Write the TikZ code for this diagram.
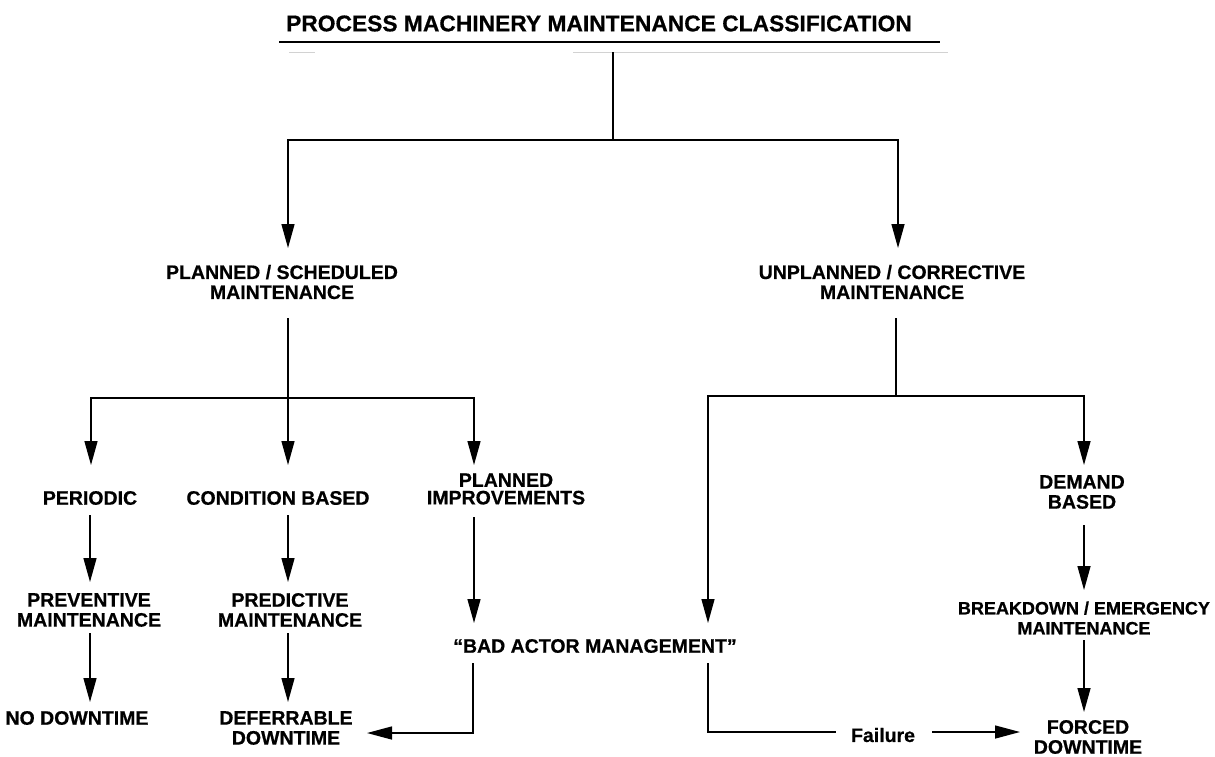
\documentclass[tikz,border=0pt]{standalone}
\usepackage{fontspec}
\setmainfont{Liberation Sans}[BoldFeatures={FakeBold=0.6}]
\usetikzlibrary{arrows.meta}
\tikzset{
  lbl/.style={font=\fontsize{19.5}{20}\selectfont\bfseries, align=center, inner sep=0pt},
  ttl/.style={font=\fontsize{22.8}{26}\selectfont\bfseries, inner sep=0pt},
  con/.style={line width=1.4pt},
  arr/.style={con, -{Triangle[length=24pt,width=13pt]}},
  harr/.style={con, -{Triangle[length=25pt,width=13pt]}}
}
\begin{document}
\begin{tikzpicture}[x=1pt,y=-1pt]
\useasboundingbox (0,0) rectangle (1215,756);
% title
\node[ttl] (title) at (599,23.5) {PROCESS MACHINERY MAINTENANCE CLASSIFICATION};
\coordinate (ulA) at (279,42); \coordinate (ulB) at (940,42);
\draw[line width=2pt] (ulA) -- (ulB);
\draw[gray!35, line width=0.6pt] (289,52) -- (315,52) (573,52) -- (948,52);
% labels
\node[lbl] (ps)  at (282,282) {PLANNED / SCHEDULED\\MAINTENANCE};
\node[lbl] (uc)  at (892,282) {UNPLANNED / CORRECTIVE\\MAINTENANCE};
\node[lbl] (per) at (90,498) {PERIODIC};
\node[lbl] (cb)  at (278,498) {CONDITION BASED};
\node[lbl, font=\fontsize{19.5}{17.5}\selectfont\bfseries] (pi) at (506,489) {PLANNED\\IMPROVEMENTS};
\node[lbl] (dem) at (1082,492) {DEMAND\\BASED};
\node[lbl] (prev) at (89,610) {PREVENTIVE\\MAINTENANCE};
\node[lbl] (pred) at (290,610) {PREDICTIVE\\MAINTENANCE};
\node[lbl] (bam) at (595,646) {“BAD ACTOR MANAGEMENT”};
\node[lbl, font=\fontsize{18}{20}\selectfont\bfseries] (bre) at (1084,618) {BREAKDOWN / EMERGENCY\\MAINTENANCE};
\node[lbl] (nod) at (77,718) {NO DOWNTIME};
\node[lbl] (def) at (286,728) {DEFERRABLE\\DOWNTIME};
\node[lbl] (frc) at (1088,737) {FORCED\\DOWNTIME};
\node[lbl] (fail) at (883,735) {Failure};
% coordinates
\coordinate (t0) at (613,52);   \coordinate (t1) at (613,140);
\coordinate (tL) at (288,140);  \coordinate (tR) at (898,140);
\coordinate (psIn) at (288,248); \coordinate (ucIn) at (898,248);
\coordinate (psOut) at (288,318); \coordinate (jP) at (288,398);
\coordinate (jPL) at (91,398);  \coordinate (jPR) at (474,398);
\coordinate (perIn) at (91,465); \coordinate (cbIn) at (288,465); \coordinate (piIn) at (474,465);
\coordinate (perOut) at (90,515); \coordinate (prevIn) at (90,582);
\coordinate (prevOut) at (90,633); \coordinate (nodIn) at (90,702);
\coordinate (cbOut) at (288,515); \coordinate (predIn) at (288,582);
\coordinate (predOut) at (288,633); \coordinate (defIn) at (288,702);
\coordinate (piOut) at (474,517); \coordinate (bamInL) at (474,623);
\coordinate (bamOutL) at (473,663); \coordinate (bamCL) at (473,733); \coordinate (defInR) at (367,733);
\coordinate (ucOut) at (896,318); \coordinate (jU) at (896,396);
\coordinate (jUL) at (708,396); \coordinate (jUR) at (1084,396);
\coordinate (bamInR) at (708,623); \coordinate (demIn) at (1084,465);
\coordinate (demOut) at (1084,525); \coordinate (breIn) at (1084,590);
\coordinate (breOut) at (1084,640); \coordinate (frcIn) at (1084,712);
\coordinate (bamOutR) at (708,663); \coordinate (bamCR) at (708,732); \coordinate (failL) at (836,732);
\coordinate (failR) at (932,732); \coordinate (frcInL) at (1020,732);
% connectors
\draw[con] (t0) -- (t1);
\draw[arr] (t1) -- (tL) -- (psIn);
\draw[arr] (t1) -- (tR) -- (ucIn);
\draw[con] (psOut) -- (jP);
\draw[arr] (jP) -- (jPL) -- (perIn);
\draw[arr] (jP) -- (cbIn);
\draw[arr] (jP) -- (jPR) -- (piIn);
\draw[arr] (perOut) -- (prevIn);
\draw[arr] (prevOut) -- (nodIn);
\draw[arr] (cbOut) -- (predIn);
\draw[arr] (predOut) -- (defIn);
\draw[arr] (piOut) -- (bamInL);
\draw[harr] (bamOutL) -- (bamCL) -- (defInR);
\draw[con] (ucOut) -- (jU);
\draw[arr] (jU) -- (jUL) -- (bamInR);
\draw[arr] (jU) -- (jUR) -- (demIn);
\draw[arr] (demOut) -- (breIn);
\draw[arr] (breOut) -- (frcIn);
\draw[con] (bamOutR) -- (bamCR) -- (failL);
\draw[harr] (failR) -- (frcInL);
\end{tikzpicture}
\end{document}
